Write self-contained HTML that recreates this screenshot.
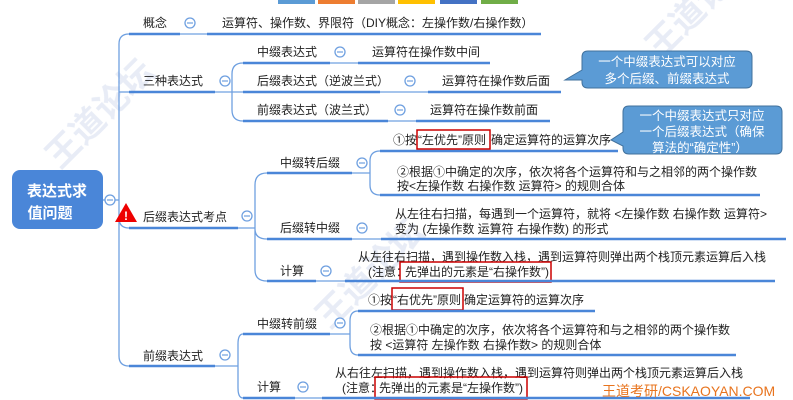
<!DOCTYPE html>
<html><head><meta charset="utf-8"><style>
html,body{margin:0;padding:0;background:#fff;width:793px;height:400px;overflow:hidden}
svg{display:block}
text{font-family:"Liberation Sans","Noto Sans CJK SC",sans-serif;font-size:12px;fill:#222}
.u{stroke:#4a86d8;stroke-width:2.5;fill:none}
.c{stroke:#6fa0e0;stroke-width:1.3;fill:none}
.ci{fill:#fff;stroke:#6fa0e0;stroke-width:1.3}
.cb text{fill:#fff;font-size:12.5px}
</style></head><body>
<svg width="793" height="400" viewBox="0 0 793 400">
<rect x="278" y="0" width="37" height="4" fill="#5b9bd5"/>
<rect x="318" y="0" width="37" height="4" fill="#ed7d31"/>
<rect x="358" y="0" width="37" height="4" fill="#a5a5a5"/>
<rect x="398" y="0" width="37" height="4" fill="#ffc000"/>
<rect x="440" y="0" width="37" height="4" fill="#4472c4"/>
<rect x="481" y="0" width="37" height="4" fill="#70ad47"/>

<g opacity="0.12" font-weight="bold">
<text transform="translate(60,170) rotate(-45)" style="font-size:34px;fill:#3a5fb0">王道论坛</text>
<text transform="translate(330,330) rotate(-45)" style="font-size:34px;fill:#3a5fb0">王道论坛</text>
<text transform="translate(660,60) rotate(-45)" style="font-size:34px;fill:#3a5fb0">王道论坛</text>
</g>

<rect x="12" y="170" width="91" height="59" rx="8" fill="#4a86d8"/>
<text x="57" y="196" text-anchor="middle" style="fill:#fff;font-size:15px;font-weight:bold">表达式求</text>
<text x="50" y="218" text-anchor="middle" style="fill:#fff;font-size:15px;font-weight:bold">值问题</text>

<path class="c" d="M103 200 H119"/>
<path class="c" d="M129 34 Q119 34 119 44 V356 Q119 366 129 366"/>
<path class="c" d="M119 92 H129"/>
<path class="c" d="M119 218 Q119 228 129 228"/>
<circle class="ci" cx="110" cy="200" r="5"/><path d="M107 200h6" stroke="#6fa0e0" stroke-width="1.2"/>

<text x="143" y="27">概念</text>
<path class="u" d="M129 34 H180"/>
<path class="c" d="M180 34 H207"/>
<circle class="ci" cx="190" cy="23" r="5"/><path d="M187 23h6" stroke="#6fa0e0" stroke-width="1.2"/>
<text x="222" y="27">运算符、操作数、界限符（DIY概念：左操作数/右操作数）</text>
<path class="u" d="M207 34 H541"/>

<text x="143" y="85">三种表达式</text>
<path class="u" d="M129 92 H215"/>
<circle class="ci" cx="225" cy="81" r="5"/><path d="M222 81h6" stroke="#6fa0e0" stroke-width="1.2"/>
<path class="c" d="M215 92 H243 M243 63 Q232 63 232 74 V110 Q232 121 243 121"/>
<text x="257" y="56">中缀表达式</text>
<path class="u" d="M243 63 H330"/>
<path class="c" d="M330 63 H358"/>
<circle class="ci" cx="340" cy="52" r="5"/><path d="M337 52h6" stroke="#6fa0e0" stroke-width="1.2"/>
<text x="372" y="56">运算符在操作数中间</text>
<path class="u" d="M358 63 H490"/>
<text x="257" y="85">后缀表达式（逆波兰式）</text>
<path class="u" d="M243 92 H380"/>
<path class="c" d="M380 92 H428"/>
<circle class="ci" cx="410" cy="81" r="5"/><path d="M407 81h6" stroke="#6fa0e0" stroke-width="1.2"/>
<text x="442" y="85">运算符在操作数后面</text>
<path class="u" d="M428 92 H561"/>
<text x="257" y="114">前缀表达式（波兰式）</text>
<path class="u" d="M243 121 H388"/>
<path class="c" d="M388 121 H416"/>
<circle class="ci" cx="400" cy="110" r="5"/><path d="M397 110h6" stroke="#6fa0e0" stroke-width="1.2"/>
<text x="430" y="114">运算符在操作数前面</text>
<path class="u" d="M416 121 H550"/>

<g class="cb">
<path d="M588 51 H746 Q752 51 752 57 V82 Q752 88 746 88 H588 Q582 88 582 82 V80 L565 80 L582 70 V57 Q582 51 588 51Z" fill="#5b9bd5" stroke="#41719c" stroke-width="1"/>
<text x="667" y="66" text-anchor="middle">一个中缀表达式可以对应</text>
<text x="667" y="83" text-anchor="middle">多个后缀、前缀表达式</text>
<path d="M629 106 H776 Q782 106 782 112 V148 Q782 154 776 154 H629 Q623 154 623 148 V146 L611 140 L623 132 V112 Q623 106 629 106Z" fill="#5b9bd5" stroke="#41719c" stroke-width="1"/>
<text x="702" y="120" text-anchor="middle">一个中缀表达式只对应</text>
<text x="702" y="136" text-anchor="middle">一个后缀表达式（确保</text>
<text x="700" y="152" text-anchor="middle">算法的“确定性”）</text>
</g>

<path d="M126 203 L137 222 H115 Z" fill="#e00"/>
<text x="126" y="220" text-anchor="middle" style="fill:#fff;font-size:12px;font-weight:bold">!</text>
<text x="143" y="221">后缀表达式考点</text>
<path class="u" d="M129 228 H238"/>
<circle class="ci" cx="247" cy="216" r="5"/><path d="M244 216h6" stroke="#6fa0e0" stroke-width="1.2"/>
<path class="c" d="M238 228 H255 M267 173 Q255 173 255 185 V229 Q255 239 267 239 M255 228 V270 Q255 281 267 281"/>

<text x="280" y="167">中缀转后缀</text>
<path class="u" d="M267 173 H352"/>
<circle class="ci" cx="362" cy="163" r="5"/><path d="M359 163h6" stroke="#6fa0e0" stroke-width="1.2"/>
<path class="c" d="M352 173 H370 M380 151 Q370 151 370 161 V185 Q370 195 380 195"/>
<text x="393" y="144">①按</text>
<text x="418" y="144">“左优先”原则</text>
<text x="491" y="144">确定运算符的运算次序</text>
<path class="u" d="M380 151 H618"/>
<rect x="417" y="130" width="73" height="19" fill="none" stroke="#c00" stroke-width="1.5"/>
<text x="397" y="176">②根据①中确定的次序，依次将各个运算符和与之相邻的两个操作数</text>
<text x="397" y="190">按&lt;左操作数  右操作数  运算符&gt; 的规则合体</text>
<path class="u" d="M380 195 H760"/>

<text x="280" y="232">后缀转中缀</text>
<path class="u" d="M267 239 H352"/>
<path class="c" d="M352 239 H381"/>
<circle class="ci" cx="362" cy="228" r="5"/><path d="M359 228h6" stroke="#6fa0e0" stroke-width="1.2"/>
<text x="395" y="218">从左往右扫描，每遇到一个运算符，就将 &lt;左操作数  右操作数  运算符&gt;</text>
<text x="395" y="233">变为 (左操作数  运算符  右操作数) 的形式</text>
<path class="u" d="M381 239 H786"/>

<text x="280" y="275">计算</text>
<path class="u" d="M267 281 H316"/>
<path class="c" d="M316 281 H345"/>
<circle class="ci" cx="326" cy="271" r="5"/><path d="M323 271h6" stroke="#6fa0e0" stroke-width="1.2"/>
<text x="358" y="261">从左往右扫描，遇到操作数入栈，遇到运算符则弹出两个栈顶元素运算后入栈</text>
<text x="368" y="276">(注意：</text>
<text x="405" y="276">先弹出的元素是“右操作数”)</text>
<rect x="400" y="262" width="151" height="20" fill="none" stroke="#c00" stroke-width="1.5"/>
<path class="u" d="M345 281 H775"/>

<text x="143" y="360">前缀表达式</text>
<path class="u" d="M129 366 H215"/>
<circle class="ci" cx="225" cy="355" r="5"/><path d="M222 355h6" stroke="#6fa0e0" stroke-width="1.2"/>
<path class="c" d="M215 366 H238 M243 334 Q238 334 238 344 V388 Q238 398 243 398"/>

<text x="257" y="328">中缀转前缀</text>
<path class="u" d="M243 334 H330"/>
<circle class="ci" cx="340" cy="323" r="5"/><path d="M337 323h6" stroke="#6fa0e0" stroke-width="1.2"/>
<path class="c" d="M330 334 H350 M358 311 Q350 311 350 321 V345 Q350 355 358 355"/>
<text x="368" y="304">①按</text>
<text x="393" y="304">“右优先”原则</text>
<text x="464" y="304">确定运算符的运算次序</text>
<rect x="392" y="288" width="71" height="22" fill="none" stroke="#c00" stroke-width="1.5"/>
<path class="u" d="M358 311 H595"/>
<text x="370" y="334">②根据①中确定的次序，依次将各个运算符和与之相邻的两个操作数</text>
<text x="370" y="349">按 &lt;运算符  左操作数  右操作数&gt; 的规则合体</text>
<path class="u" d="M358 355 H736"/>

<text x="257" y="391">计算</text>
<path class="u" d="M243 398 H295"/>
<path class="c" d="M295 398 H322"/>
<circle class="ci" cx="303" cy="387" r="5"/><path d="M300 387h6" stroke="#6fa0e0" stroke-width="1.2"/>
<text x="335" y="377">从右往左扫描，遇到操作数入栈，遇到运算符则弹出两个栈顶元素运算后入栈</text>
<text x="342" y="392">(注意：</text>
<text x="379" y="392">先弹出的元素是“左操作数”)</text>
<rect x="375" y="377" width="152" height="22" fill="none" stroke="#c00" stroke-width="1.5"/>
<path class="u" d="M322 398 H750"/>

<text x="602" y="396" style="fill:#e8741e;font-size:14px">王道考研/CSKAOYAN.COM</text>
</svg>
</body></html>
